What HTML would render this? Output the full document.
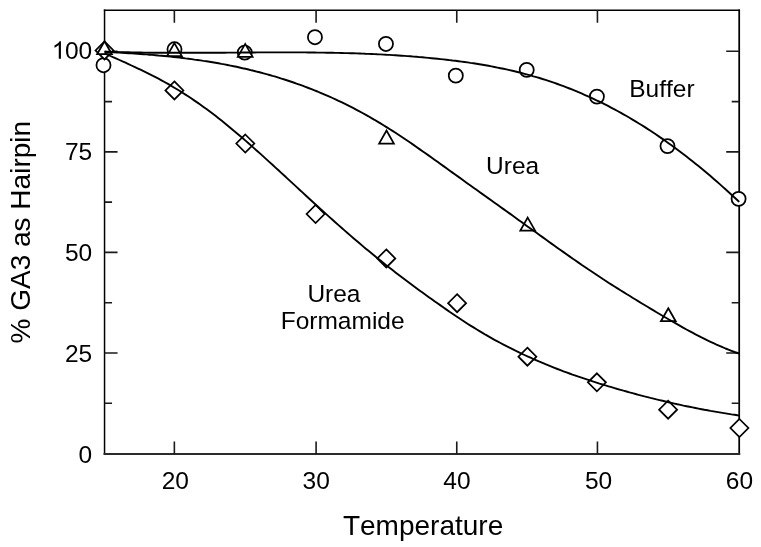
<!DOCTYPE html>
<html><head><meta charset="utf-8"><style>
html,body{margin:0;padding:0;background:#fff;}
svg{display:block;will-change:transform;}
text{font-family:"Liberation Sans",sans-serif;fill:#000;font-kerning:none;}
</style></head><body>
<svg width="761" height="547" viewBox="0 0 761 547">
<rect width="761" height="547" fill="#fff"/>
<g>
<g fill="none" stroke-linecap="square">
<path d="M104.55,10.3 H739.2" stroke="#000" stroke-width="1.5"/>
<path d="M104.55,10.3 V453.9" stroke="#000" stroke-width="1.5"/>
<path d="M739.2,10.3 V453.9" stroke="#000" stroke-width="1.75"/>
<path d="M104.55,453.9 H739.2" stroke="#2a2a2a" stroke-width="2"/>
</g>
<path d="M174.36,453.9 V441.4 M174.36,10.3 V22.8 M316.10,453.9 V441.4 M316.10,10.3 V22.8 M456.76,453.9 V441.4 M456.76,10.3 V22.8 M597.44,453.9 V441.4 M597.44,10.3 V22.8 M104.55,352.95 H117.55 M739.2,352.95 H726.2 M104.55,252.41 H117.55 M739.2,252.41 H726.2 M104.55,151.87 H117.55 M739.2,151.87 H726.2 M104.55,51.32 H117.55 M739.2,51.32 H726.2 M104.55,403.23 H112.05 M739.2,403.23 H731.7 M104.55,302.68 H112.05 M739.2,302.68 H731.7 M104.55,202.14 H112.05 M739.2,202.14 H731.7 M104.55,101.59 H112.05 M739.2,101.59 H731.7" fill="none" stroke="#1a1a1a" stroke-width="1.6"/>
<g fill="#fff" stroke="#000" stroke-width="1.75" stroke-linejoin="miter">
<circle cx="103.5" cy="65.2" r="7.05"/><circle cx="174.5" cy="49.25" r="7.05"/><circle cx="244.75" cy="52.55" r="7.05"/><circle cx="314.95" cy="37.2" r="7.05"/><circle cx="385.95" cy="43.95" r="7.05"/><circle cx="455.8" cy="75.7" r="7.05"/><circle cx="526.7" cy="69.9" r="7.05"/><circle cx="596.9" cy="96.6" r="7.05"/><circle cx="667.5" cy="146.1" r="7.05"/><circle cx="738.6" cy="198.8" r="7.05"/><path d="M104.5,41.4 L113.5,50.4 L104.5,59.4 L95.5,50.4 Z"/><path d="M174.4,81.45 L183.4,90.45 L174.4,99.45 L165.4,90.45 Z"/><path d="M245.3,134.5 L254.3,143.5 L245.3,152.5 L236.3,143.5 Z"/><path d="M315.6,205.0 L324.6,214 L315.6,223.0 L306.6,214 Z"/><path d="M386.3,249.39999999999998 L395.3,258.4 L386.3,267.4 L377.3,258.4 Z"/><path d="M457.1,294.2 L466.1,303.2 L457.1,312.2 L448.1,303.2 Z"/><path d="M527.4,347.7 L536.4,356.7 L527.4,365.7 L518.4,356.7 Z"/><path d="M596.9,373.3 L605.9,382.3 L596.9,391.3 L587.9,382.3 Z"/><path d="M668.1,400.7 L677.1,409.7 L668.1,418.7 L659.1,409.7 Z"/><path d="M739.4,419.0 L748.4,428 L739.4,437.0 L730.4,428 Z"/><path d="M104.5,41.20 L111.9,54.2 L97.1,54.2 Z"/><path d="M174.4,43.10 L181.8,56.1 L167.0,56.1 Z"/><path d="M245.2,43.90 L252.6,56.9 L237.79999999999998,56.9 Z"/><path d="M386.5,130.50 L393.9,143.5 L379.1,143.5 Z"/><path d="M527.7,217.60 L535.1,230.6 L520.3000000000001,230.6 Z"/><path d="M668.3,308.20 L675.6999999999999,321.2 L660.9,321.2 Z"/>
</g>
<g fill="none" stroke="#000" stroke-width="1.9" stroke-linejoin="round">
<path d="M104.5,51.6 L107.5,51.7 L110.5,51.8 L113.5,51.9 L116.5,52.0 L119.5,52.1 L122.5,52.2 L125.5,52.2 L128.5,52.3 L131.5,52.4 L134.5,52.4 L137.5,52.5 L140.5,52.5 L143.5,52.6 L146.5,52.6 L149.5,52.7 L152.5,52.7 L155.5,52.7 L158.5,52.7 L161.5,52.8 L164.5,52.8 L167.5,52.8 L170.5,52.8 L173.5,52.8 L176.5,52.8 L179.5,52.8 L182.5,52.8 L185.5,52.8 L188.5,52.8 L191.5,52.8 L194.5,52.8 L197.5,52.8 L200.5,52.8 L203.5,52.8 L206.5,52.8 L209.5,52.8 L212.5,52.7 L215.5,52.7 L218.5,52.7 L221.5,52.7 L224.5,52.7 L227.5,52.6 L230.5,52.6 L233.5,52.6 L236.5,52.6 L239.5,52.6 L242.5,52.5 L245.5,52.5 L248.5,52.5 L251.5,52.5 L254.5,52.5 L257.5,52.4 L260.5,52.4 L263.5,52.4 L266.5,52.4 L269.5,52.4 L272.5,52.4 L275.5,52.4 L278.5,52.4 L281.5,52.4 L284.5,52.4 L287.5,52.4 L290.5,52.4 L293.5,52.4 L296.5,52.4 L299.5,52.4 L302.5,52.4 L305.5,52.4 L308.5,52.5 L311.5,52.5 L314.5,52.5 L317.5,52.6 L320.5,52.6 L323.5,52.6 L326.5,52.7 L329.5,52.7 L332.5,52.8 L335.5,52.9 L338.5,52.9 L341.5,53.0 L344.5,53.1 L347.5,53.1 L350.5,53.2 L353.5,53.3 L356.5,53.4 L359.5,53.5 L362.5,53.6 L365.5,53.8 L368.5,53.9 L371.5,54.0 L374.5,54.1 L377.5,54.3 L380.5,54.4 L383.5,54.6 L386.5,54.8 L389.5,54.9 L392.5,55.1 L395.5,55.3 L398.5,55.5 L401.5,55.7 L404.5,55.9 L407.5,56.1 L410.5,56.3 L413.5,56.6 L416.5,56.8 L419.5,57.1 L422.5,57.3 L425.5,57.6 L428.5,57.9 L431.5,58.2 L434.5,58.5 L437.5,58.8 L440.5,59.1 L443.5,59.4 L446.5,59.7 L449.5,60.1 L452.5,60.5 L455.5,60.8 L458.5,61.2 L461.5,61.6 L464.5,62.0 L467.5,62.4 L470.5,62.9 L473.5,63.3 L476.5,63.8 L479.5,64.3 L482.5,64.8 L485.5,65.3 L488.5,65.8 L491.5,66.4 L494.5,67.0 L497.5,67.6 L500.5,68.2 L503.5,68.8 L506.5,69.4 L509.5,70.1 L512.5,70.8 L515.5,71.5 L518.5,72.2 L521.5,73.0 L524.5,73.8 L527.5,74.6 L530.5,75.4 L533.5,76.3 L536.5,77.1 L539.5,78.0 L542.5,79.0 L545.5,79.9 L548.5,80.9 L551.5,81.9 L554.5,82.9 L557.5,84.0 L560.5,85.1 L563.5,86.2 L566.5,87.3 L569.5,88.5 L572.5,89.7 L575.5,90.9 L578.5,92.2 L581.5,93.4 L584.5,94.8 L587.5,96.1 L590.5,97.4 L593.5,98.8 L596.5,100.3 L599.5,101.7 L602.5,103.2 L605.5,104.7 L608.5,106.2 L611.5,107.8 L614.5,109.4 L617.5,111.0 L620.5,112.6 L623.5,114.3 L626.5,116.0 L629.5,117.8 L632.5,119.6 L635.5,121.4 L638.5,123.2 L641.5,125.0 L644.5,126.9 L647.5,128.9 L650.5,130.8 L653.5,132.8 L656.5,134.8 L659.5,136.9 L662.5,138.9 L665.5,141.0 L668.5,143.2 L671.5,145.3 L674.5,147.5 L677.5,149.8 L680.5,152.0 L683.5,154.3 L686.5,156.6 L689.5,158.9 L692.5,161.3 L695.5,163.7 L698.5,166.1 L701.5,168.6 L704.5,171.1 L707.5,173.6 L710.5,176.1 L713.5,178.7 L716.5,181.3 L719.5,183.9 L722.5,186.6 L725.5,189.3 L728.5,192.0 L731.5,194.7 L734.5,197.5 L737.5,200.3 L739.2,201.9"/>
<path d="M104.5,51.8 L107.5,52.0 L110.5,52.1 L113.5,52.3 L116.5,52.5 L119.5,52.6 L122.5,52.8 L125.5,53.0 L128.5,53.2 L131.5,53.4 L134.5,53.6 L137.5,53.8 L140.5,54.0 L143.5,54.2 L146.5,54.4 L149.5,54.7 L152.5,54.9 L155.5,55.2 L158.5,55.5 L161.5,55.7 L164.5,56.0 L167.5,56.3 L170.5,56.6 L173.5,57.0 L176.5,57.3 L179.5,57.6 L182.5,58.0 L185.5,58.4 L188.5,58.7 L191.5,59.1 L194.5,59.6 L197.5,60.0 L200.5,60.4 L203.5,60.9 L206.5,61.3 L209.5,61.8 L212.5,62.3 L215.5,62.8 L218.5,63.3 L221.5,63.9 L224.5,64.4 L227.5,65.0 L230.5,65.6 L233.5,66.2 L236.5,66.8 L239.5,67.5 L242.5,68.2 L245.5,68.8 L248.5,69.5 L251.5,70.3 L254.5,71.0 L257.5,71.8 L260.5,72.5 L263.5,73.3 L266.5,74.2 L269.5,75.0 L272.5,75.9 L275.5,76.7 L278.5,77.6 L281.5,78.6 L284.5,79.5 L287.5,80.5 L290.5,81.5 L293.5,82.5 L296.5,83.6 L299.5,84.6 L302.5,85.7 L305.5,86.8 L308.5,88.0 L311.5,89.1 L314.5,90.3 L317.5,91.5 L320.5,92.8 L323.5,94.1 L326.5,95.4 L329.5,96.7 L332.5,98.0 L335.5,99.4 L338.5,100.8 L341.5,102.2 L344.5,103.7 L347.5,105.2 L350.5,106.7 L353.5,108.2 L356.5,109.8 L359.5,111.4 L362.5,113.0 L365.5,114.7 L368.5,116.3 L371.5,118.1 L374.5,119.8 L377.5,121.6 L380.5,123.4 L383.5,125.2 L386.5,127.1 L389.5,129.0 L392.5,130.9 L395.5,132.8 L398.5,134.8 L401.5,136.8 L404.5,138.8 L407.5,140.8 L410.5,142.8 L413.5,144.9 L416.5,147.0 L419.5,149.1 L422.5,151.2 L425.5,153.3 L428.5,155.4 L431.5,157.5 L434.5,159.7 L437.5,161.8 L440.5,164.0 L443.5,166.1 L446.5,168.3 L449.5,170.5 L452.5,172.6 L455.5,174.8 L458.5,176.9 L461.5,179.1 L464.5,181.2 L467.5,183.4 L470.5,185.5 L473.5,187.7 L476.5,189.8 L479.5,192.0 L482.5,194.1 L485.5,196.3 L488.5,198.4 L491.5,200.5 L494.5,202.7 L497.5,204.8 L500.5,207.0 L503.5,209.1 L506.5,211.3 L509.5,213.4 L512.5,215.6 L515.5,217.7 L518.5,219.9 L521.5,222.0 L524.5,224.2 L527.5,226.4 L530.5,228.5 L533.5,230.7 L536.5,232.8 L539.5,235.0 L542.5,237.1 L545.5,239.3 L548.5,241.5 L551.5,243.6 L554.5,245.7 L557.5,247.9 L560.5,250.0 L563.5,252.1 L566.5,254.3 L569.5,256.4 L572.5,258.5 L575.5,260.5 L578.5,262.6 L581.5,264.7 L584.5,266.7 L587.5,268.8 L590.5,270.8 L593.5,272.8 L596.5,274.8 L599.5,276.8 L602.5,278.8 L605.5,280.7 L608.5,282.7 L611.5,284.6 L614.5,286.5 L617.5,288.4 L620.5,290.3 L623.5,292.1 L626.5,294.0 L629.5,295.8 L632.5,297.7 L635.5,299.5 L638.5,301.4 L641.5,303.2 L644.5,305.0 L647.5,306.8 L650.5,308.6 L653.5,310.4 L656.5,312.2 L659.5,314.0 L662.5,315.8 L665.5,317.5 L668.5,319.3 L671.5,321.0 L674.5,322.7 L677.5,324.4 L680.5,326.1 L683.5,327.8 L686.5,329.5 L689.5,331.1 L692.5,332.7 L695.5,334.3 L698.5,335.8 L701.5,337.4 L704.5,338.9 L707.5,340.4 L710.5,341.8 L713.5,343.2 L716.5,344.6 L719.5,345.9 L722.5,347.2 L725.5,348.5 L728.5,349.7 L731.5,350.8 L734.5,352.0 L737.5,353.0 L739.2,353.6"/>
<path d="M104.5,53.3 L107.5,54.6 L110.5,56.0 L113.5,57.3 L116.5,58.7 L119.5,60.0 L122.5,61.4 L125.5,62.7 L128.5,64.1 L131.5,65.5 L134.5,66.9 L137.5,68.3 L140.5,69.7 L143.5,71.1 L146.5,72.6 L149.5,74.1 L152.5,75.6 L155.5,77.1 L158.5,78.7 L161.5,80.3 L164.5,82.0 L167.5,83.7 L170.5,85.4 L173.5,87.2 L176.5,89.0 L179.5,90.8 L182.5,92.7 L185.5,94.6 L188.5,96.5 L191.5,98.5 L194.5,100.6 L197.5,102.6 L200.5,104.7 L203.5,106.9 L206.5,109.1 L209.5,111.3 L212.5,113.5 L215.5,115.8 L218.5,118.2 L221.5,120.5 L224.5,122.9 L227.5,125.4 L230.5,127.9 L233.5,130.4 L236.5,132.9 L239.5,135.4 L242.5,138.0 L245.5,140.6 L248.5,143.2 L251.5,145.9 L254.5,148.6 L257.5,151.2 L260.5,153.9 L263.5,156.6 L266.5,159.4 L269.5,162.1 L272.5,164.8 L275.5,167.6 L278.5,170.3 L281.5,173.1 L284.5,175.8 L287.5,178.6 L290.5,181.4 L293.5,184.1 L296.5,186.9 L299.5,189.7 L302.5,192.4 L305.5,195.2 L308.5,198.0 L311.5,200.7 L314.5,203.5 L317.5,206.2 L320.5,208.9 L323.5,211.7 L326.5,214.4 L329.5,217.1 L332.5,219.8 L335.5,222.5 L338.5,225.1 L341.5,227.8 L344.5,230.4 L347.5,233.0 L350.5,235.6 L353.5,238.2 L356.5,240.8 L359.5,243.3 L362.5,245.9 L365.5,248.4 L368.5,250.8 L371.5,253.3 L374.5,255.8 L377.5,258.2 L380.5,260.6 L383.5,263.0 L386.5,265.4 L389.5,267.7 L392.5,270.0 L395.5,272.4 L398.5,274.7 L401.5,277.0 L404.5,279.2 L407.5,281.5 L410.5,283.7 L413.5,286.0 L416.5,288.2 L419.5,290.4 L422.5,292.6 L425.5,294.7 L428.5,296.9 L431.5,299.0 L434.5,301.2 L437.5,303.3 L440.5,305.4 L443.5,307.5 L446.5,309.6 L449.5,311.7 L452.5,313.7 L455.5,315.8 L458.5,317.8 L461.5,319.8 L464.5,321.7 L467.5,323.7 L470.5,325.6 L473.5,327.4 L476.5,329.3 L479.5,331.1 L482.5,332.9 L485.5,334.7 L488.5,336.4 L491.5,338.1 L494.5,339.8 L497.5,341.4 L500.5,343.0 L503.5,344.6 L506.5,346.2 L509.5,347.7 L512.5,349.2 L515.5,350.7 L518.5,352.1 L521.5,353.6 L524.5,355.0 L527.5,356.4 L530.5,357.7 L533.5,359.1 L536.5,360.4 L539.5,361.7 L542.5,362.9 L545.5,364.2 L548.5,365.4 L551.5,366.6 L554.5,367.8 L557.5,369.0 L560.5,370.1 L563.5,371.3 L566.5,372.4 L569.5,373.5 L572.5,374.6 L575.5,375.6 L578.5,376.7 L581.5,377.7 L584.5,378.7 L587.5,379.7 L590.5,380.7 L593.5,381.7 L596.5,382.6 L599.5,383.6 L602.5,384.5 L605.5,385.4 L608.5,386.3 L611.5,387.2 L614.5,388.1 L617.5,389.0 L620.5,389.8 L623.5,390.7 L626.5,391.5 L629.5,392.4 L632.5,393.2 L635.5,394.0 L638.5,394.8 L641.5,395.6 L644.5,396.4 L647.5,397.1 L650.5,397.9 L653.5,398.6 L656.5,399.4 L659.5,400.1 L662.5,400.8 L665.5,401.5 L668.5,402.2 L671.5,402.9 L674.5,403.6 L677.5,404.3 L680.5,404.9 L683.5,405.6 L686.5,406.2 L689.5,406.8 L692.5,407.4 L695.5,408.0 L698.5,408.6 L701.5,409.2 L704.5,409.8 L707.5,410.3 L710.5,410.9 L713.5,411.4 L716.5,411.9 L719.5,412.4 L722.5,412.9 L725.5,413.4 L728.5,413.9 L731.5,414.4 L734.5,414.8 L737.5,415.3 L739.2,415.5"/>
</g>
<g font-size="24.5">
<text x="92.2" y="463.1" text-anchor="end">0</text><text x="92.2" y="361.9" text-anchor="end">25</text><text x="92.2" y="261.2" text-anchor="end">50</text><text x="92.2" y="159.9" text-anchor="end">75</text><path d="M60.93,58.80 H58.77 V45.08 Q58.00,45.82 56.73,46.56 T54.47,47.67 V45.59 Q56.27,44.74 57.63,43.54 T59.54,41.19 H60.93 Z" fill="#000"/><text x="92.2" y="58.8" text-anchor="end">00</text>
<text x="175.30" y="489.2" text-anchor="middle">20</text><text x="316.15" y="489.2" text-anchor="middle">30</text><text x="456.95" y="489.2" text-anchor="middle">40</text><text x="598.55" y="489.2" text-anchor="middle">50</text><text x="739.45" y="489.2" text-anchor="middle">60</text>
<text x="629.2" y="97.4">Buffer</text>
<text x="486.1" y="173.7">Urea</text>
<text x="307.4" y="301.7">Urea</text>
<text x="280.7" y="329.3">Formamide</text>
</g>
<text x="423.1" y="534.8" font-size="28" text-anchor="middle">Temperature</text>
<text transform="translate(30.1,232.2) rotate(-90)" font-size="28" text-anchor="middle">% GA3 as Hairpin</text>
</g>
</svg>
</body></html>
